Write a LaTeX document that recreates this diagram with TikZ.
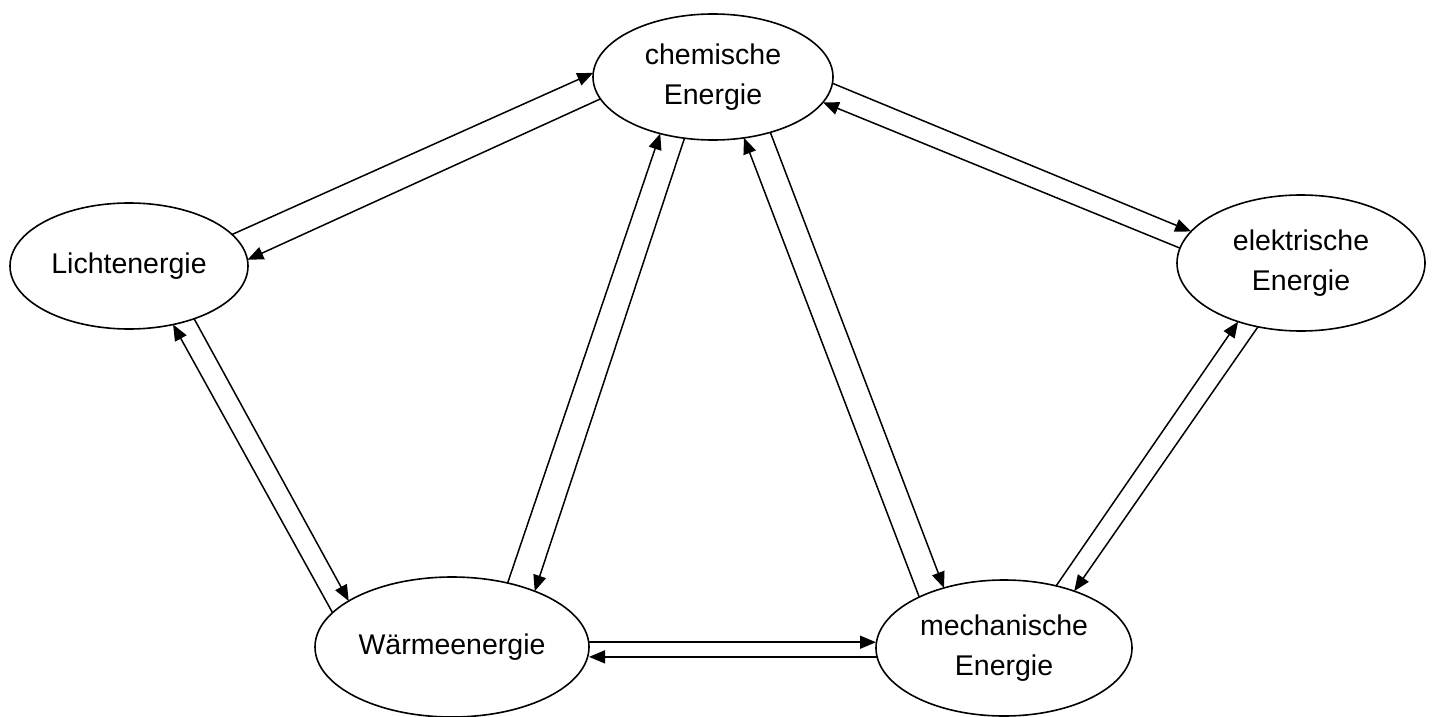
\documentclass[tikz,border=0pt]{standalone}
\usepackage{fontspec}
\setmainfont{Liberation Sans}
\usetikzlibrary{arrows.meta,shapes.geometric}
\begin{document}
\begin{tikzpicture}[x=1pt,y=-1pt,
  en/.style={ellipse, draw, line width=1.6pt, inner sep=0pt, outer sep=0pt, fill=white},
  lbl/.style={font=\fontsize{28.5}{40}\selectfont, align=center, inner sep=0pt},
  conn/.style={line width=1.5pt, -{Triangle[length=16pt,width=13pt]}}]
\useasboundingbox[fill=white] (0,0) rectangle (1432,717);
\node[en, minimum width=240pt, minimum height=126pt, label={[lbl]center:chemische\\Energie}] (chem) at (713,77) {};
\node[en, minimum width=238pt, minimum height=126pt, label={[lbl]center:Lichtenergie}] (licht) at (129,266) {};
\node[en, minimum width=248pt, minimum height=136pt, label={[lbl]center:elektrische\\Energie}] (elek) at (1301,263) {};
\node[en, minimum width=274pt, minimum height=140pt, label={[lbl]center:Wärmeenergie}] (waerme) at (452,647) {};
\node[en, minimum width=256pt, minimum height=136pt, label={[lbl]center:mechanische\\Energie}] (mech) at (1004,648) {};
\draw[conn] (licht.17.3) -- (chem.178.1);
\draw[conn] (chem.191.5) -- (licht.3.8);
\draw[conn] (waerme.164.4) -- (licht.307);
\draw[conn] (licht.321) -- (waerme.156);
\draw[conn] (waerme.49.8) -- (chem.227);
\draw[conn] (chem.245.6) -- (waerme.34.5);
\draw[conn] (mech.149.3) -- (chem.297.7);
\draw[conn] (chem.316.5) -- (mech.135.5);
\draw[conn] (chem.357.3) -- (elek.164.7);
\draw[conn] (elek.173.3) -- (chem.347.1);
\draw[conn] (mech.50) -- (elek.223.7);
\draw[conn] (elek.236.1) -- (mech.39);
\draw[conn] (waerme.2.5) -- (mech.west |- waerme.2.5);
\draw[conn] (mech.184) -- (waerme.east |- mech.184);
\end{tikzpicture}
\end{document}
